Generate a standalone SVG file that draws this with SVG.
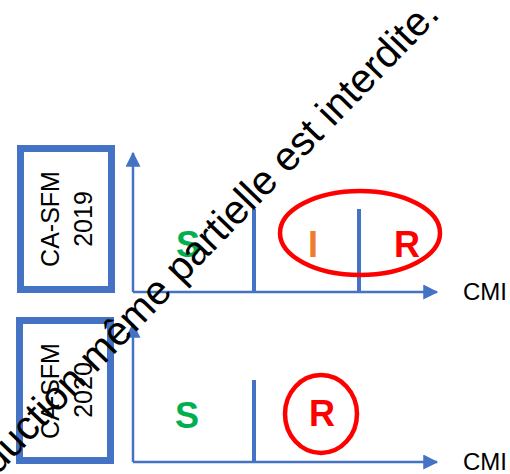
<svg xmlns="http://www.w3.org/2000/svg" width="510" height="474" viewBox="0 0 510 474">
<style>
.box{fill:#fff;stroke:#4472C4;stroke-width:7}
.lbl{font-family:"Liberation Sans",Arial,sans-serif;font-size:25px;fill:#000;text-anchor:middle}
.axis{stroke:#4472C4;stroke-width:2.5;fill:none}
.div{stroke:#4472C4;stroke-width:4;fill:none}
.ring{fill:none;stroke:#FF0000;stroke-width:4.5}
.big{font-family:"Liberation Sans",Arial,sans-serif;font-weight:bold;font-size:36px;text-anchor:middle}
.cmi{font-family:"Liberation Sans",Arial,sans-serif;font-size:24px;fill:#000}
.wm{font-family:"Liberation Sans",Arial,sans-serif;font-size:40.5px;fill:#000;text-anchor:end}
</style>
<defs>
<marker id="ah" markerWidth="6" markerHeight="6" refX="5.5" refY="3" orient="auto" markerUnits="strokeWidth" viewBox="0 0 6 6">
<path d="M0,0 L6,3 L0,6 Z" fill="#4472C4"/>
</marker>
</defs>
<g id="box2019">
<rect class="box" x="20.5" y="148.5" width="91" height="141"/>
<text class="lbl" transform="translate(59,219) rotate(-90)">CA-SFM</text>
<text class="lbl" transform="translate(92,219) rotate(-90)">2019</text>
</g>
<g id="box2020">
<rect class="box" x="19.5" y="320.5" width="91" height="140"/>
<text class="lbl" transform="translate(59,391) rotate(-90)">CA-SFM</text>
<text class="lbl" transform="translate(92,390) rotate(-90)">2020</text>
</g>
<g id="connectors">
<polyline class="axis" points="133,292 133,153" marker-end="url(#ah)"/>
<polyline class="axis" points="133,292 437,292" marker-end="url(#ah)"/>
<polyline class="axis" points="133,462 133,324" marker-end="url(#ah)"/>
<polyline class="axis" points="133,462 437,462" marker-end="url(#ah)"/>
<line class="div" x1="254" y1="209" x2="254" y2="292"/>
<line class="div" x1="359" y1="209" x2="359" y2="292"/>
<line class="div" x1="254" y1="380" x2="254" y2="462"/>
</g>
<g id="chart2019">
<text class="big" x="188" y="257" fill="#00B050">S</text>
<text class="big" x="313" y="257" fill="#ED7D31">I</text>
<text class="big" x="407" y="257" fill="#FF0000">R</text>
<ellipse class="ring" cx="360" cy="233" rx="80" ry="42"/>
<text class="cmi" x="463" y="300">CMI</text>
</g>
<g id="chart2020">
<text class="big" x="187" y="428" fill="#00B050">S</text>
<text class="big" x="322" y="426" fill="#FF0000">R</text>
<ellipse class="ring" cx="321" cy="414" rx="36" ry="39"/>
<text class="cmi" x="463" y="470">CMI</text>
</g>
<text class="wm" transform="translate(441,16) rotate(-46)">Reproduction même partielle est interdite.</text>
</svg>
